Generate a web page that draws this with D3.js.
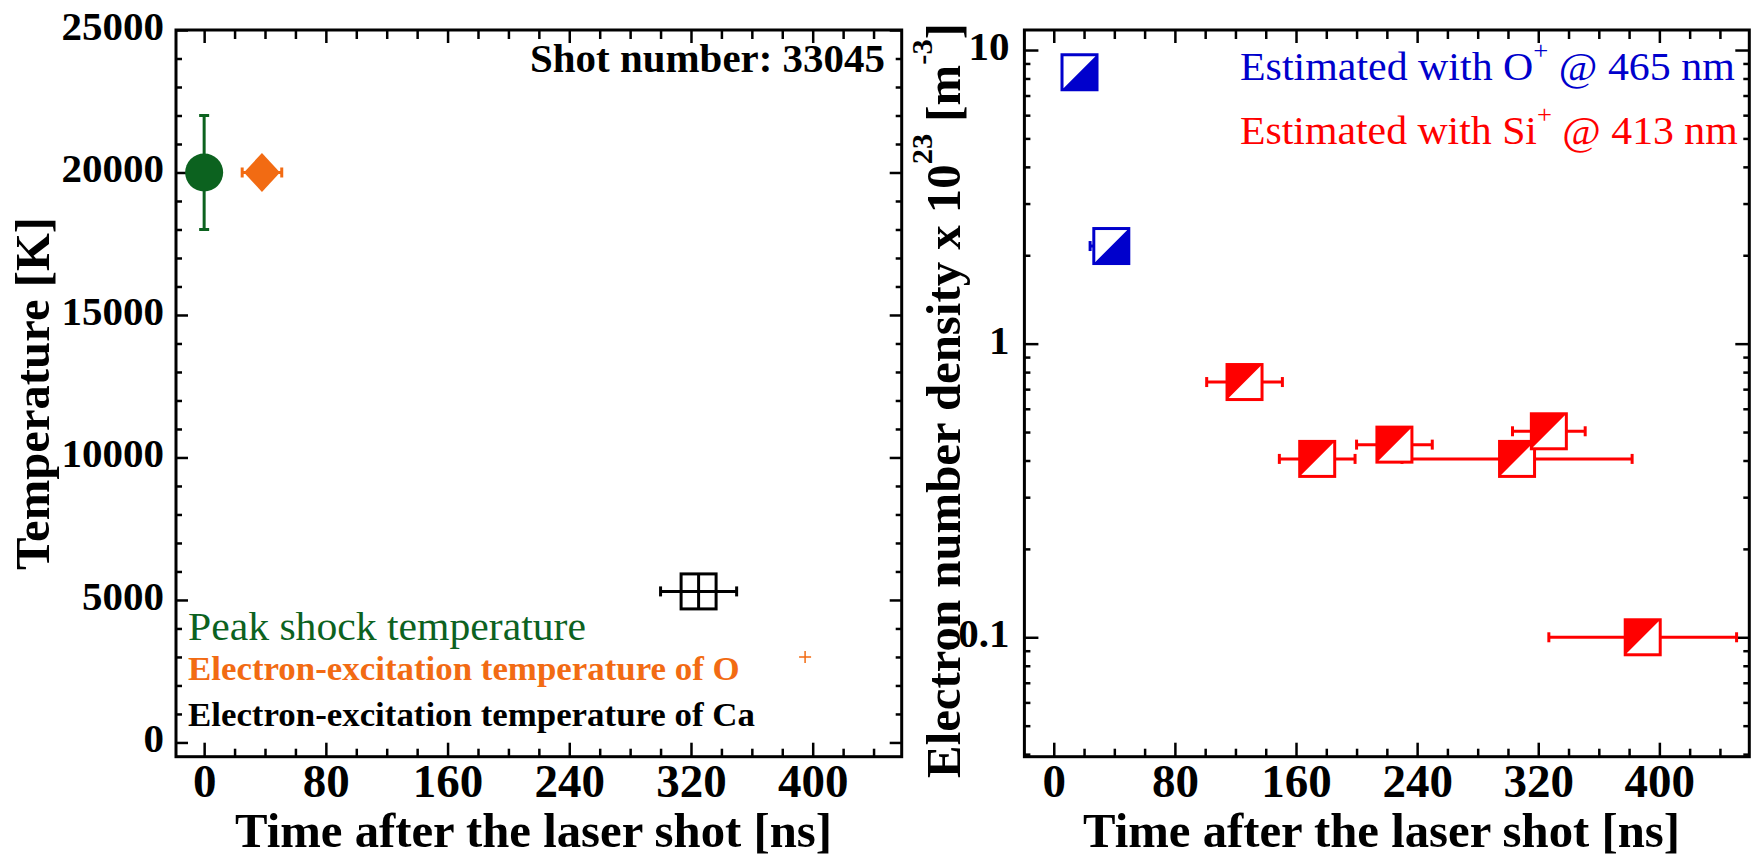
<!DOCTYPE html>
<html><head><meta charset="utf-8">
<script src="https://cdn.jsdelivr.net/npm/d3@7"></script>
<style>
body{margin:0;background:#fff}
svg{display:block}
text{font-family:"Liberation Serif","Times New Roman",Times,serif}
</style>
</head><body>
<svg id="c" width="1751" height="858"></svg>
<script>
// ---------- data ----------
const timeTicks = [0, 80, 160, 240, 320, 400];
const timeMinor = [20, 40, 60, 100, 120, 140, 180, 200, 220, 260, 280, 300, 340, 360, 380, 420, 440];
const tempTicks = [0, 5000, 10000, 15000, 20000, 25000];
const tempMinor = [1000,2000,3000,4000,6000,7000,8000,9000,11000,12000,13000,14000,16000,17000,18000,19000,21000,22000,23000,24000];
const densTicks = [0.1, 1, 10];
const densMinor = [0.04,0.05,0.06,0.07,0.08,0.09,0.2,0.3,0.4,0.5,0.6,0.7,0.8,0.9,2,3,4,5,6,7,8,9];

const peakTime = [0], peakTemp = [20000], peakTempErr = [2000];
const oTime = [38], oTemp = [20000], oTimeErr = [13];
const caTime = [325], caTemp = [5300], caTimeErr = [25];
const strayTime = [395], strayTemp = [3000];

const blueTime = [17, 38], blueDens = [8.4, 2.15], blueTimeErrLo = [0, 14], blueTimeErrHi = [0, 0];
const redTime = [126, 174, 225, 306, 327, 389];
const redDens = [0.74, 0.405, 0.453, 0.405, 0.503, 0.1];
const redTimeErr = [25, 25, 25, 76, 24, 62];

// ---------- colours ----------
const GREEN = "#0c621f", ORANGE = "#f26b13", BLUE = "#0000cc", RED = "#ff0000";

const svg = d3.select("#c");

// ---------- scales ----------
const xL = d3.scaleLinear([-18.5, 458.5], [176, 901.7]);
const yL = d3.scaleLinear([-500, 25000], [756.7, 30]);
const xR = d3.scaleLinear([-19.4, 459.4], [1024.4, 1749.3]);
const yR = d3.scaleLog([0.0392, 11.7], [756.7, 30]);

function styleTicks(g, w) {
  g.select(".domain").remove();
  g.selectAll(".tick line").attr("stroke", "#000").attr("stroke-width", w);
}

function drawAxes(xs, ys, yMaj, yMin, yFmt, yLabelX, yMajLen, yMinLen) {
  const [x0, x1] = xs.range();
  const [yb, yt] = ys.range();
  const g = svg.append("g");
  // bottom
  g.append("g").attr("transform", `translate(0,${yb})`)
    .call(d3.axisBottom(xs).tickValues(timeMinor).tickSize(-8).tickFormat(""))
    .call(a => styleTicks(a, 2.5));
  const bx = g.append("g").attr("transform", `translate(0,${yb})`)
    .call(d3.axisBottom(xs).tickValues(timeTicks).tickSize(-14).tickFormat(d3.format("d")))
    .call(a => styleTicks(a, 2.5));
  bx.selectAll(".tick text").attr("y", 40.5).attr("dy", 0)
    .attr("font-size", 47).attr("font-weight", "bold").attr("fill", "#000")
    .attr("font-family", "'Liberation Serif', serif");
  // top
  g.append("g").attr("transform", `translate(0,${yt})`)
    .call(d3.axisTop(xs).tickValues(timeMinor).tickSize(-9).tickFormat(""))
    .call(a => styleTicks(a, 2.5));
  g.append("g").attr("transform", `translate(0,${yt})`)
    .call(d3.axisTop(xs).tickValues(timeTicks).tickSize(-13).tickFormat(""))
    .call(a => styleTicks(a, 2.5));
  // left
  g.append("g").attr("transform", `translate(${x0},0)`)
    .call(d3.axisLeft(ys).tickValues(yMin).tickSize(-yMinLen).tickFormat(""))
    .call(a => styleTicks(a, 2.5));
  const ly = g.append("g").attr("transform", `translate(${x0},0)`)
    .call(d3.axisLeft(ys).tickValues(yMaj).tickSize(-yMajLen).tickFormat(yFmt))
    .call(a => styleTicks(a, 2.5));
  ly.selectAll(".tick text").attr("x", yLabelX).attr("dy", 0).attr("y", 9.5)
    .attr("text-anchor", "end")
    .attr("font-size", 41).attr("font-weight", "bold").attr("fill", "#000")
    .attr("font-family", "'Liberation Serif', serif");
  // right
  g.append("g").attr("transform", `translate(${x1},0)`)
    .call(d3.axisRight(ys).tickValues(yMin).tickSize(-yMinLen).tickFormat(""))
    .call(a => styleTicks(a, 2.5));
  g.append("g").attr("transform", `translate(${x1},0)`)
    .call(d3.axisRight(ys).tickValues(yMaj).tickSize(-yMajLen).tickFormat(""))
    .call(a => styleTicks(a, 2.5));
  // frame
  g.append("rect").attr("x", x0).attr("y", yt).attr("width", x1 - x0).attr("height", yb - yt)
    .attr("fill", "none").attr("stroke", "#000").attr("stroke-width", 3);
}

drawAxes(xL, yL, tempTicks, tempMinor, d3.format("d"), -12, 12, 6);
drawAxes(xR, yR, densTicks, densMinor, d => String(d), -15, 14, 6);

// ---------- text helper (fit to measured width) ----------
function label(x, y, rot, anchor, target, build) {
  const g = svg.append("g").attr("transform", `translate(${x},${y}) rotate(${rot})`);
  const t = g.append("text").attr("text-anchor", anchor);
  build(t);
  const w = t.node().getBBox().width;
  if (target && w > 0) t.attr("transform", `scale(${target / w},1)`);
  return t;
}

// axis titles
label(533.5, 847, 0, "middle", 597, t => t.attr("font-size", 48).attr("font-weight", "bold").text("Time after the laser shot [ns]"));
label(1381.5, 847, 0, "middle", 597, t => t.attr("font-size", 48).attr("font-weight", "bold").text("Time after the laser shot [ns]"));
label(49, 393.5, -90, "middle", 353, t => t.attr("font-size", 48).attr("font-weight", "bold").text("Temperature [K]"));
label(960, 400.5, -90, "middle", 755, t => {
  t.attr("font-size", 48).attr("font-weight", "bold");
  t.append("tspan").text("Electron number density x 10");
  t.append("tspan").attr("font-size", 30).attr("dy", -28).text("23");
  t.append("tspan").attr("font-size", 48).attr("dy", 28).text(" [m");
  t.append("tspan").attr("font-size", 30).attr("dy", -28).text("-3");
  t.append("tspan").attr("font-size", 48).attr("dy", 28).text("]");
});

// annotation + legends (left)
label(885, 72, 0, "end", 355, t => t.attr("font-size", 41).attr("font-weight", "bold").text("Shot number: 33045"));
label(188, 640, 0, "start", 398, t => t.attr("font-size", 41).attr("fill", GREEN).text("Peak shock temperature"));
label(188, 680, 0, "start", 552, t => t.attr("font-size", 33).attr("font-weight", "bold").attr("fill", ORANGE).text("Electron-excitation temperature of O"));
label(188, 725.7, 0, "start", 567, t => t.attr("font-size", 33).attr("font-weight", "bold").attr("fill", "#000").text("Electron-excitation temperature of Ca"));

// legends (right)
label(1240, 80, 0, "start", 495, t => {
  t.attr("font-size", 41).attr("fill", BLUE);
  t.append("tspan").text("Estimated with O");
  t.append("tspan").attr("font-size", 26).attr("dy", -21).text("+");
  t.append("tspan").attr("font-size", 41).attr("dy", 21).text("\u00a0@ 465 nm");
});
label(1240, 143.5, 0, "start", 498, t => {
  t.attr("font-size", 41).attr("fill", RED);
  t.append("tspan").text("Estimated with Si");
  t.append("tspan").attr("font-size", 26).attr("dy", -21).text("+");
  t.append("tspan").attr("font-size", 41).attr("dy", 21).text("\u00a0@ 413 nm");
});

// ---------- marks: left panel ----------
const mL = svg.append("g");
const CAP = 5;
function hErr(g, xs, ys, x, y, lo, hi, col, w) {
  if (!lo && !hi) return;
  const xa = xs(x - lo), xb = xs(x + hi), yy = ys(y);
  g.append("line").attr("x1", xa).attr("x2", xb).attr("y1", yy).attr("y2", yy).attr("stroke", col).attr("stroke-width", w);
  const caps = [];
  if (lo) caps.push(xa);
  if (hi) caps.push(xb);
  caps.forEach(xx => g.append("line").attr("x1", xx).attr("x2", xx).attr("y1", yy - CAP).attr("y2", yy + CAP).attr("stroke", col).attr("stroke-width", w));
}
function vErr(g, xs, ys, x, y, e, col, w) {
  const ya = ys(y - e), yb = ys(y + e), xx = xs(x);
  g.append("line").attr("x1", xx).attr("x2", xx).attr("y1", ya).attr("y2", yb).attr("stroke", col).attr("stroke-width", w);
  [ya, yb].forEach(yy => g.append("line").attr("x1", xx - CAP).attr("x2", xx + CAP).attr("y1", yy).attr("y2", yy).attr("stroke", col).attr("stroke-width", w));
}

// peak shock temperature
peakTime.forEach((t, i) => {
  vErr(mL, xL, yL, t, peakTemp[i], peakTempErr[i], GREEN, 3);
  mL.append("circle").attr("cx", xL(t)).attr("cy", yL(peakTemp[i])).attr("r", 19).attr("fill", GREEN);
});
// O excitation temperature
oTime.forEach((t, i) => {
  hErr(mL, xL, yL, t, oTemp[i], oTimeErr[i], oTimeErr[i], ORANGE, 3);
  const cx = xL(t), cy = yL(oTemp[i]);
  mL.append("path").attr("d", `M${cx},${cy - 19.5}L${cx + 18},${cy}L${cx},${cy + 19.5}L${cx - 18},${cy}Z`).attr("fill", ORANGE);
});
// Ca excitation temperature
caTime.forEach((t, i) => {
  hErr(mL, xL, yL, t, caTemp[i], caTimeErr[i], caTimeErr[i], "#000", 3);
  const cx = xL(t), cy = yL(caTemp[i]), h = 17.5;
  mL.append("rect").attr("x", cx - h).attr("y", cy - h).attr("width", 2 * h).attr("height", 2 * h)
    .attr("fill", "#fff").attr("stroke", "#000").attr("stroke-width", 3);
  mL.append("line").attr("x1", cx - h).attr("x2", cx + h).attr("y1", cy).attr("y2", cy).attr("stroke", "#000").attr("stroke-width", 3);
  mL.append("line").attr("x1", cx).attr("x2", cx).attr("y1", cy - h).attr("y2", cy + h).attr("stroke", "#000").attr("stroke-width", 3);
});
// small stray plus marker
strayTime.forEach((t, i) => {
  const cx = xL(t), cy = yL(strayTemp[i]);
  mL.append("path").attr("d", `M${cx - 6},${cy}H${cx + 6}M${cx},${cy - 6}V${cy + 6}`).attr("stroke", ORANGE).attr("stroke-width", 1.5);
});

// ---------- marks: right panel ----------
const mR = svg.append("g");
function halfBox(g, cx, cy, col, upperLeft) {
  const h = 17.5;
  g.append("rect").attr("x", cx - h).attr("y", cy - h).attr("width", 2 * h).attr("height", 2 * h).attr("fill", "#fff");
  const d = upperLeft
    ? `M${cx - h},${cy - h}L${cx + h},${cy - h}L${cx - h},${cy + h}Z`
    : `M${cx + h},${cy - h}L${cx + h},${cy + h}L${cx - h},${cy + h}Z`;
  g.append("path").attr("d", d).attr("fill", col);
  g.append("rect").attr("x", cx - h).attr("y", cy - h).attr("width", 2 * h).attr("height", 2 * h)
    .attr("fill", "none").attr("stroke", col).attr("stroke-width", 3);
}
redTime.forEach((t, i) => hErr(mR, xR, yR, t, redDens[i], redTimeErr[i], redTimeErr[i], RED, 3));
blueTime.forEach((t, i) => hErr(mR, xR, yR, t, blueDens[i], blueTimeErrLo[i], blueTimeErrHi[i], BLUE, 3));
redTime.forEach((t, i) => halfBox(mR, xR(t), yR(redDens[i]), RED, true));
blueTime.forEach((t, i) => halfBox(mR, xR(t), yR(blueDens[i]), BLUE, false));
</script>
</body></html>
